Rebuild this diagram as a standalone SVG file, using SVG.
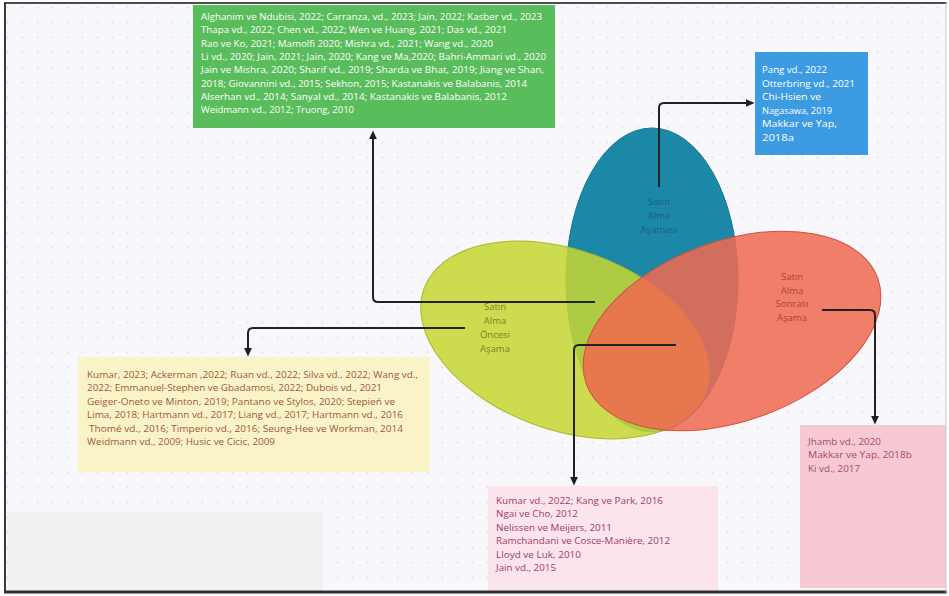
<svg xmlns="http://www.w3.org/2000/svg" width="949" height="596" viewBox="0 0 949 596">
  <defs>
    <pattern id="grid" x="0" y="0" width="15" height="15" patternUnits="userSpaceOnUse">
      <circle cx="7.5" cy="7.5" r="0.9" fill="#dedee8"/>
    </pattern>
    <marker id="arr" viewBox="0 0 10 10" refX="6" refY="5" markerWidth="9" markerHeight="9" markerUnits="userSpaceOnUse" orient="auto">
      <path d="M0,0.5 L10,5 L0,9.5 z" fill="#1e1e1e"/>
    </marker>
    <style>
      .t { font-family: "Open Sans", "Noto Sans", "Liberation Sans", sans-serif; font-size: 9.5px; }
      .w { fill: #ffffff; }
      .y { fill: #9c5a38; }
      .pc { fill: #a23a6c; }
      .pr { fill: #a24d68; }
      .lbl { font-family: "Open Sans", "Noto Sans", "Liberation Sans", sans-serif; font-size: 9.5px; text-anchor: middle; }
      .conn { fill: none; stroke: #222222; stroke-width: 2; stroke-linejoin: round; }
    </style>
  </defs>

  <!-- canvas / frame -->
  <rect x="0" y="0" width="949" height="596" fill="#ffffff"/>
  <rect x="5" y="3" width="941" height="589" fill="#f8f8fc"/>
  <rect x="5" y="3" width="941" height="589" fill="url(#grid)"/>
  <rect x="8" y="512" width="315" height="79" fill="#f1f1f1"/>

  <!-- ellipses -->
  <g id="ellipse-satin-alma">
    <ellipse cx="652" cy="280" rx="86" ry="152" fill="#1b88a7" stroke="#167590" stroke-width="1"/>
    <text class="lbl" fill="#1d5f78" x="659" y="205">Satın</text>
    <text class="lbl" fill="#1d5f78" x="659" y="219">Alma</text>
    <text class="lbl" fill="#1d5f78" x="659" y="233">Aşaması</text>
  </g>
  <g id="ellipse-oncesi">
    <ellipse cx="565" cy="340" rx="150" ry="90" transform="rotate(20 565 340)" fill="#c6d632" fill-opacity="0.86" stroke="#a9b82a" stroke-width="1"/>
    <text class="lbl" fill="#76861f" x="495" y="310">Satın</text>
    <text class="lbl" fill="#76861f" x="495" y="324">Alma</text>
    <text class="lbl" fill="#76861f" x="495" y="338">Öncesi</text>
    <text class="lbl" fill="#76861f" x="495" y="352">Aşama</text>
  </g>
  <g id="ellipse-sonrasi">
    <ellipse cx="732" cy="331" rx="155" ry="90" transform="rotate(-20 732 331)" fill="#f06a50" fill-opacity="0.86" stroke="#d4503c" stroke-width="1"/>
    <text class="lbl" fill="#a4463a" x="792" y="280">Satın</text>
    <text class="lbl" fill="#a4463a" x="792" y="294">Alma</text>
    <text class="lbl" fill="#a4463a" x="792" y="307">Sonrası</text>
    <text class="lbl" fill="#a4463a" x="792" y="321">Aşama</text>
  </g>

  <!-- boxes -->
  <g id="box-green">
    <rect x="193" y="5" width="362" height="123" fill="#5abd5c"/>
    <text class="t w" x="201" y="20" textLength="341" lengthAdjust="spacingAndGlyphs">Alghanim ve Ndubisi, 2022; Carranza, vd., 2023; Jain, 2022; Kasber vd., 2023</text>
    <text class="t w" x="201" y="33.3" textLength="306" lengthAdjust="spacingAndGlyphs">Thapa vd., 2022; Chen vd., 2022; Wen ve Huang, 2021; Das vd., 2021</text>
    <text class="t w" x="201" y="46.6" textLength="292" lengthAdjust="spacingAndGlyphs">Rao ve Ko, 2021; Mamolfi 2020; Mishra vd., 2021; Wang vd., 2020</text>
    <text class="t w" x="201" y="59.9" textLength="345" lengthAdjust="spacingAndGlyphs">Li vd., 2020; Jain, 2021; Jain, 2020; Kang ve Ma,2020; Bahri-Ammari vd., 2020</text>
    <text class="t w" x="201" y="73.2" textLength="343" lengthAdjust="spacingAndGlyphs">Jain ve Mishra, 2020; Sharif vd., 2019; Sharda ve Bhat, 2019; Jiang ve Shan,</text>
    <text class="t w" x="201" y="86.5" textLength="326" lengthAdjust="spacingAndGlyphs">2018; Giovannini vd., 2015; Sekhon, 2015; Kastanakis ve Balabanis, 2014</text>
    <text class="t w" x="201" y="99.8" textLength="306" lengthAdjust="spacingAndGlyphs">Alserhan vd., 2014; Sanyal vd., 2014; Kastanakis ve Balabanis, 2012</text>
    <text class="t w" x="201" y="113.1" textLength="153" lengthAdjust="spacingAndGlyphs">Weidmann vd., 2012; Truong, 2010</text>
  </g>

  <g id="box-blue">
    <rect x="755" y="52" width="113" height="103" fill="#3d9be2"/>
    <text class="t w" x="762" y="73" textLength="65" lengthAdjust="spacingAndGlyphs">Pang vd., 2022</text>
    <text class="t w" x="762" y="86.5" textLength="93" lengthAdjust="spacingAndGlyphs">Otterbring vd., 2021</text>
    <text class="t w" x="762" y="100" textLength="59" lengthAdjust="spacingAndGlyphs">Chi-Hsien ve</text>
    <text class="t w" x="762" y="113.5" textLength="70" lengthAdjust="spacingAndGlyphs">Nagasawa, 2019</text>
    <text class="t w" x="762" y="127" textLength="75" lengthAdjust="spacingAndGlyphs">Makkar ve Yap,</text>
    <text class="t w" x="762" y="140.5" textLength="32" lengthAdjust="spacingAndGlyphs">2018a</text>
  </g>

  <g id="box-yellow">
    <rect x="78" y="357" width="352" height="115" fill="#fbf3c8"/>
    <text class="t y" x="87" y="378" textLength="331" lengthAdjust="spacingAndGlyphs">Kumar, 2023; Ackerman ,2022; Ruan vd., 2022; Silva vd., 2022; Wang vd.,</text>
    <text class="t y" x="87" y="391.4" textLength="295" lengthAdjust="spacingAndGlyphs">2022; Emmanuel-Stephen ve Gbadamosi, 2022; Dubois vd., 2021</text>
    <text class="t y" x="87" y="404.8" textLength="308" lengthAdjust="spacingAndGlyphs">Geiger-Oneto ve Minton, 2019; Pantano ve Stylos, 2020; Stepień ve</text>
    <text class="t y" x="87" y="418.2" textLength="316" lengthAdjust="spacingAndGlyphs">Lima, 2018; Hartmann vd., 2017; Liang vd., 2017; Hartmann vd., 2016</text>
    <text class="t y" x="89" y="431.6" textLength="314" lengthAdjust="spacingAndGlyphs">Thomé vd., 2016; Timperio vd., 2016;  Seung-Hee ve Workman, 2014</text>
    <text class="t y" x="87" y="445" textLength="188" lengthAdjust="spacingAndGlyphs">Weidmann vd., 2009; Husic ve Cicic, 2009</text>
  </g>

  <g id="box-pink-center">
    <rect x="488" y="486" width="230" height="105" fill="#fbe4ec"/>
    <text class="t pc" x="496" y="504" textLength="167" lengthAdjust="spacingAndGlyphs">Kumar vd., 2022; Kang ve Park, 2016</text>
    <text class="t pc" x="496" y="517.4" textLength="82" lengthAdjust="spacingAndGlyphs">Ngai ve Cho, 2012</text>
    <text class="t pc" x="496" y="530.8" textLength="116" lengthAdjust="spacingAndGlyphs">Nelissen ve Meijers, 2011</text>
    <text class="t pc" x="496" y="544.2" textLength="174" lengthAdjust="spacingAndGlyphs">Ramchandani ve Cosce-Manière, 2012</text>
    <text class="t pc" x="496" y="557.6" textLength="85" lengthAdjust="spacingAndGlyphs">Lloyd ve Luk, 2010</text>
    <text class="t pc" x="496" y="571" textLength="60" lengthAdjust="spacingAndGlyphs">Jain vd., 2015</text>
  </g>

  <g id="box-pink-right">
    <rect x="800" y="425" width="146" height="163" fill="#f7c9d4"/>
    <text class="t pr" x="808" y="445" textLength="73" lengthAdjust="spacingAndGlyphs">Jhamb vd., 2020</text>
    <text class="t pr" x="808" y="458.4" textLength="104" lengthAdjust="spacingAndGlyphs">Makkar ve Yap, 2018b</text>
    <text class="t pr" x="808" y="471.8" textLength="52" lengthAdjust="spacingAndGlyphs">Ki vd., 2017</text>
  </g>

  <!-- connectors -->
  <g id="connectors">
    <path class="conn" d="M595,302 H378 Q373,302 373,297 V134" marker-end="url(#arr)"/>
    <path class="conn" d="M465,328 H253 Q248,328 248,333 V353" marker-end="url(#arr)"/>
    <path class="conn" d="M659,187 V108 Q659,103 664,103 H751" marker-end="url(#arr)"/>
    <path class="conn" d="M822,310 H870 Q875,310 875,315 V421" marker-end="url(#arr)"/>
    <path class="conn" d="M676,345 H579 Q574,345 574,350 V482" marker-end="url(#arr)"/>
  </g>

  <!-- frame lines -->
  <g id="frame">
    <line x1="4" y1="3" x2="947" y2="3" stroke="#4d4d4d" stroke-width="2"/>
    <line x1="5" y1="2" x2="5" y2="593" stroke="#3a3a3a" stroke-width="2"/>
    <line x1="4" y1="592" x2="947" y2="592" stroke="#2e2e2e" stroke-width="3"/>
    <line x1="946" y1="2" x2="946" y2="593" stroke="#c8c8cc" stroke-width="1"/>
  </g>
</svg>
